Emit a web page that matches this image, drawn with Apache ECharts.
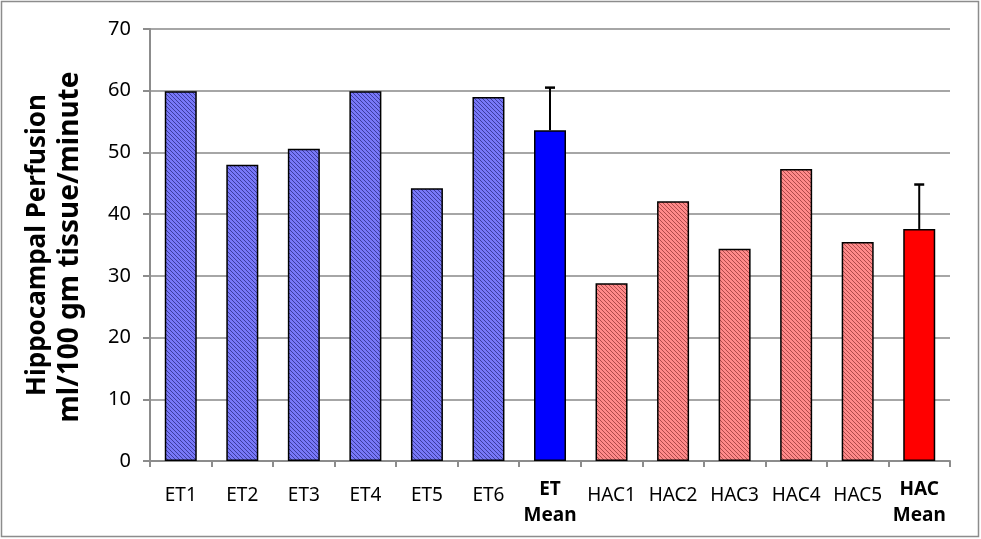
<!DOCTYPE html>
<html><head><meta charset="utf-8">
<script src="https://cdn.jsdelivr.net/npm/echarts@6/dist/echarts.min.js"></script>
<style>html,body{margin:0;padding:0;background:#fff}#c{width:981px;height:539px}</style>
</head><body><div id="c"></div>
<script>
const categories = ['ET1','ET2','ET3','ET4','ET5','ET6','ET Mean','HAC1','HAC2','HAC3','HAC4','HAC5','HAC Mean'];
const values = [59.9, 48.0, 50.6, 59.9, 44.2, 59.0, 53.6, 28.8, 42.1, 34.4, 47.3, 35.5, 37.6];
const errors = [null, null, null, null, null, null, 6.9, null, null, null, null, null, 7.2];
const groups = ['ET','ET','ET','ET','ET','ET','ETM','HAC','HAC','HAC','HAC','HAC','HACM'];
const yTicks = [0,10,20,30,40,50,60,70];

function pattern(bg, fg){
  const c = document.createElement('canvas'); c.width = 4; c.height = 4;
  const g = c.getContext('2d');
  g.fillStyle = bg; g.fillRect(0,0,4,4);
  g.fillStyle = fg;
  for (let i=0;i<4;i++){ g.fillRect(i, i, 1, 1); }
  return {image: c, repeat: 'repeat'};
}
const blueHatch = pattern('#7878f8', '#3c3ca0');
const redHatch = pattern('#ff8a8a', '#b04a4a');
const fills = {ET: blueHatch, ETM: '#0000ff', HAC: redHatch, HACM: '#ff0000'};

const chart = echarts.init(document.getElementById('c'));
chart.setOption({
  animation: false,
  grid: {left: 150, right: 31, top: 29, bottom: 78},
  graphic: [
    {type:'rect', shape:{x:1.5,y:1.5,width:977,height:535}, style:{fill:'none', stroke:'#8c8c8c', lineWidth:1.5}, z: 100},
    {type:'text', x:38, y:245, rotation: Math.PI/2,
     style:{text:'Hippocampal Perfusion', font:'bold 26px "Noto Sans"', fill:'#000', textAlign:'center', textVerticalAlign:'middle'}},
    {type:'text', x:70, y:247, rotation: Math.PI/2,
     style:{text:'ml/100 gm tissue/minute', font:'bold 28px "Noto Sans"', fill:'#000', textAlign:'center', textVerticalAlign:'middle'}}
  ],
  xAxis: {
    type: 'category', data: categories,
    axisLine: {lineStyle:{color:'#8c8c8c', width:2}},
    axisTick: {show:true, length:6, lineStyle:{color:'#8c8c8c', width:2}},
    axisLabel: {
      margin: 16, color:'#000', interval:0,
      formatter: v => v.indexOf('Mean')>=0 ? '{b|' + v.replace(' Mean','') + '}\n{b|Mean}' : '{n|' + v + '}',
      rich: {
        b:{fontWeight:'bold', fontSize:19, fontFamily:'"Noto Sans"', lineHeight:26, color:'#000'},
        n:{fontSize:19, fontFamily:'"Noto Sans"', lineHeight:26, color:'#000', padding:[12,0,0,0]}
      }
    }
  },
  yAxis: {
    type: 'value', min: 0, max: 70, interval: 10,
    axisLine: {show:true, lineStyle:{color:'#8c8c8c', width:2}},
    axisTick: {show:true, length:7, lineStyle:{color:'#8c8c8c', width:2}},
    splitLine: {lineStyle:{color:'#a6a6a6', width:2}},
    axisLabel: {color:'#000', fontFamily:'"Noto Sans"', fontSize:20, margin:19,
      formatter: v => yTicks.indexOf(v)>=0 ? String(v) : ''}
  },
  series: [
    {
      type: 'bar', barWidth: '52%',
      data: values.map((v,i)=>({value:v, itemStyle:{color: fills[groups[i]]}})),
      itemStyle: {borderColor:'#000', borderWidth:1.5},
      z: 2
    },
    {
      type: 'custom', z: 5,
      data: values.map((v,i)=>[i, v, errors[i] == null ? 0 : errors[i]]),
      renderItem: function(params, api){
        const e = api.value(2);
        if (!e) return null;
        const i = api.value(0), v = api.value(1);
        const p0 = api.coord([i, v]);
        const p1 = api.coord([i, v + e]);
        return {type:'group', children:[
          {type:'line', shape:{x1:p0[0], y1:p0[1], x2:p1[0], y2:p1[1]}, style:{stroke:'#000', lineWidth:2}},
          {type:'line', shape:{x1:p1[0]-5, y1:p1[1], x2:p1[0]+5, y2:p1[1]}, style:{stroke:'#000', lineWidth:2.5}}
        ]};
      }
    }
  ]
});
</script></body></html>
